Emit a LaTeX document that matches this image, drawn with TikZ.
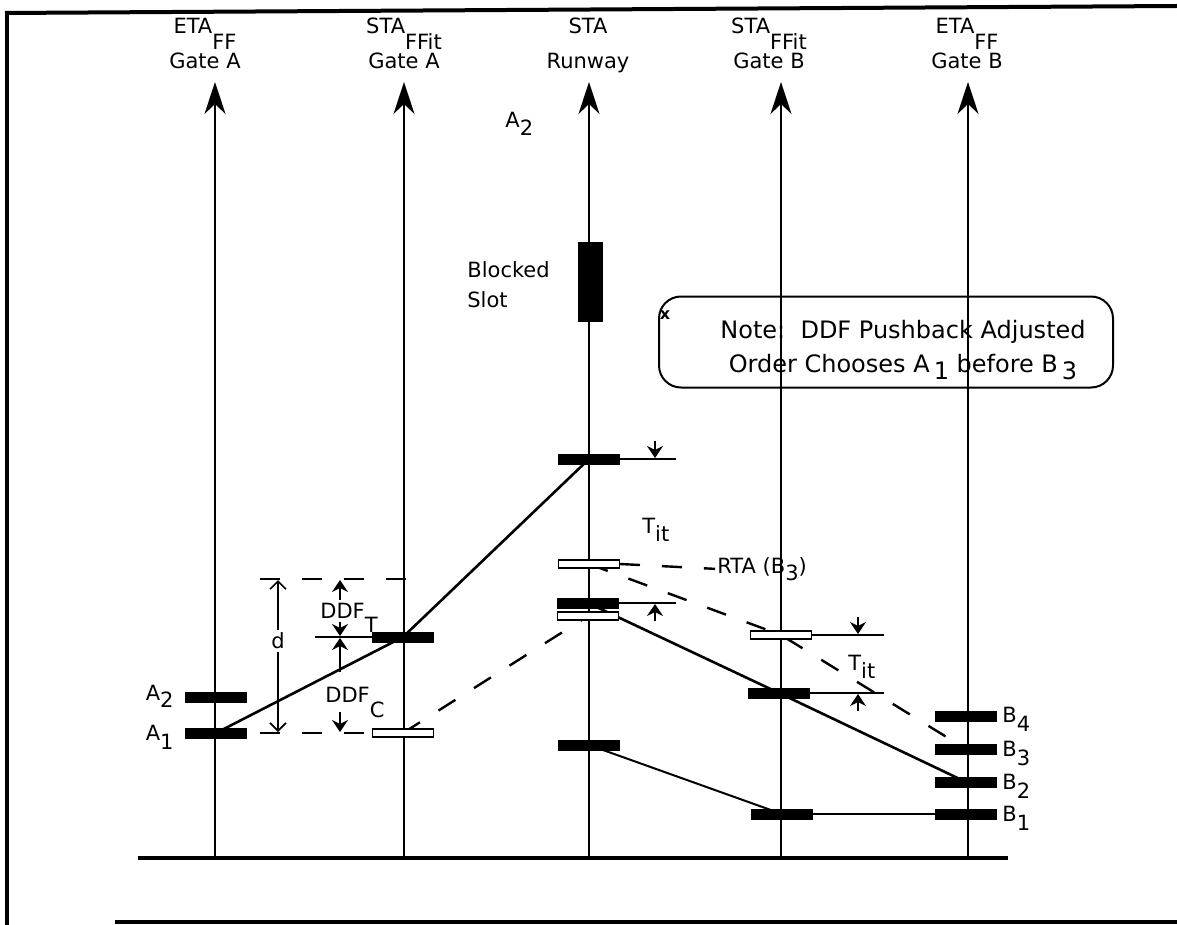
\documentclass[tikz,border=0pt]{standalone}
\usepackage{fontspec}
\setmainfont{DejaVu Sans}
\usetikzlibrary{arrows.meta,positioning,backgrounds}

% lowered index, drawn at full size as in the figure
\newcommand{\lo}[2][0.45em]{\raisebox{-#1}{#2}}

\tikzset{
  frameline/.style={line width=2pt},
  groundline/.style={line width=2.2pt},
  axisline/.style={line width=1pt,-{Stealth[length=16pt,width=10.5pt,inset=5pt]}},
  fullbar/.style={rectangle,fill=black,inner sep=0pt,minimum width=31pt,minimum height=5.5pt},
  openbar/.style={rectangle,draw=black,line width=0.7pt,fill=white,inner sep=0pt,
    minimum width=30.3pt,minimum height=4pt},
  lab/.style={font=\fontsize{10.5}{12}\selectfont,inner sep=1pt},
  thinline/.style={line width=0.7pt},
  route/.style={line width=1.3pt},
  plan/.style={line width=1.2pt,dash pattern=on 10pt off 11pt},
  dimarrow/.style={line width=0.8pt,-{Straight Barb[length=4pt,width=8pt]}},
  tickarrow/.style={line width=0.8pt,-{Stealth[length=6pt,width=8pt,inset=2pt]}},
  notebox/.style={draw,line width=1pt,rounded corners=11pt,minimum width=227pt,minimum height=45.5pt},
  notetext/.style={font=\fontsize{12}{17}\selectfont,align=center,inner sep=0pt},
}

\begin{document}
\begin{tikzpicture}[x=0.5pt,y=-0.5pt]
\useasboundingbox (0,0) rectangle (1177,925);

% page frame
\draw[frameline] (5,13) -- (1177,6);
\draw[frameline] (7,12) -- (7,925);
\draw[frameline] (115,922) -- (1177,922);

% time axes
\foreach \x in {215,404,589,781,968}
  \draw[axisline] (\x,858) -- (\x,82);
\draw[groundline] (138,858) -- (1008,858);

% axis headings
\node[lab,anchor=base] (hd1) at (205,34) {ETA\lo[0.75em]{FF}};
\node[lab,anchor=base] (gt1) at (205,69) {Gate A};
\node[lab,anchor=base] (hd2) at (404,34) {STA\lo[0.75em]{FFit}};
\node[lab,anchor=base] (gt2) at (404,69) {Gate A};
\node[lab,anchor=base] (hd3) at (588,34) {STA};
\node[lab,anchor=base] (gt3) at (588,69) {Runway};
\node[lab,anchor=base] (hd4) at (769,34) {STA\lo[0.75em]{FFit}};
\node[lab,anchor=base] (gt4) at (769,69) {Gate B};
\node[lab,anchor=base] (hd5) at (967,34) {ETA\lo[0.75em]{FF}};
\node[lab,anchor=base] (gt5) at (967,69) {Gate B};

\node[lab,anchor=base west] (rwA2) at (503,128) {A\lo[0.35em]{2}};

% blocked slot on the runway
\node[fullbar,minimum width=12.5pt,minimum height=40pt] (blk) at (590,282) {};
\node[lab,align=left,anchor=north west,font=\fontsize{10.5}{15}\selectfont] (blklab) at (465,259) {Blocked\\Slot};

% note
\node[notebox] (note) at (886,342) {};
\node[notetext] (notetxt) at (903,350) {Note:~~DDF Pushback Adjusted\\Order Chooses A\,\lo[0.3em]{1} before B\,\lo[0.3em]{3}};
\node[font=\footnotesize\bfseries,inner sep=0pt] (xmark) at (665,315) {x};

% slots: runway
\node[fullbar] (rb1) at (589,459) {};
\node[openbar] (rw1) at (589,564) {};
\node[fullbar] (rb2) at (588,603) {};
\node[openbar] (rw2) at (588,616) {};
\node[fullbar] (rb3) at (589,745) {};
% slots: gate A
\node[fullbar] (gb1) at (403,637) {};
\node[openbar] (gw1) at (403,733) {};
\node[fullbar] (A2) at (216,697) {};
\node[fullbar] (A1) at (216,733) {};
% slots: gate B
\node[openbar] (bw1) at (781,635) {};
\node[fullbar] (bb1) at (779,693) {};
\node[fullbar] (bb2) at (782,814) {};
\node[fullbar] (B4) at (966,716) {};
\node[fullbar] (B3) at (966,749) {};
\node[fullbar] (B2) at (966,782) {};
\node[fullbar] (B1) at (966,814) {};

% flight labels
\node[lab,anchor=base east] (lA2) at (176,700) {A\lo[0.35em]{2}};
\node[lab,anchor=base east] (lA1) at (176,740) {A\lo[0.45em]{1}};
\node[lab,anchor=base west] (lB4) at (1000,722) {B\lo[0.45em]{4}};
\node[lab,anchor=base west] (lB3) at (1000,756) {B\lo[0.45em]{3}};
\node[lab,anchor=base west] (lB2) at (1000,789) {B\lo[0.45em]{2}};
\node[lab,anchor=base west] (lB1) at (1000,821) {B\lo[0.45em]{1}};

% trajectories
\begin{scope}[on background layer]
  \draw[route] (A1.center) -- (gb1.center) -- (rb1.center);
  \draw[plan] (gw1.center) -- (rw2.center);
  \draw[plan] (rw1.center) -- (bw1.center) -- (B3.center);
  \draw[route] (rb2.center) -- (bb1.center) -- (B2.center);
  \draw[route,line width=1pt] (rb3.center) -- (bb2.center);
\end{scope}
\draw[thinline] (bb2.east) -- (B1.west);

% T_it spacing, runway
\coordinate (r1e) at (676,459);
\coordinate (r2e) at (676,603);
\draw[thinline] (rb1.east) -- (r1e);
\draw[thinline] (rb2.east) -- (r2e);
\draw[tickarrow] (655,441) -- (655,458);
\draw[tickarrow] (655,621) -- (655,604);
\node[lab,anchor=base west] (tit1) at (640,533) {T\lo[0.4em]{it}};
\node[lab,anchor=base west] (rta) at (715,573) {RTA (B\lo[0.35em]{3})};
\draw[plan] (rw1.east) -- (rta.west);

% T_it spacing, gate B
\coordinate (b1e) at (884,635);
\coordinate (b2e) at (884,693);
\draw[thinline] (bw1.east) -- (b1e);
\draw[thinline] (bb1.east) -- (b2e);
\draw[tickarrow] (858,617) -- (858,634);
\draw[tickarrow] (858,711) -- (858,694);
\node[lab,anchor=base west] (tit2) at (846,670) {T\lo[0.4em]{it}};

% d and DDF
\coordinate (dtopL) at (260,579);
\coordinate (dtopR) at (422,579);
\coordinate (dbotL) at (260,733);
\coordinate (dmidL) at (315,637);
\draw[plan] (dtopL) -- (dtopR);
\draw[plan] (dbotL) -- (gw1.west);
\draw[thinline] (dmidL) -- (gb1.west);
\node[lab] (dlab) at (278,641) {d};
\draw[dimarrow] (dlab.north) -- (278,580);
\draw[dimarrow] (dlab.south) -- (278,732);
\node[lab,anchor=base west] (ddfT) at (318,618) {DDF\lo[0.7em]{T}};
\node[lab,anchor=base west] (ddfC) at (323,702) {DDF\lo[0.75em]{C}};
\draw[tickarrow] (340,600) -- (340,580);
\draw[tickarrow] (340,622) -- (340,636);
\draw[tickarrow] (340,672) -- (340,638);
\draw[tickarrow] (340,712) -- (340,732);
\end{tikzpicture}
\end{document}
